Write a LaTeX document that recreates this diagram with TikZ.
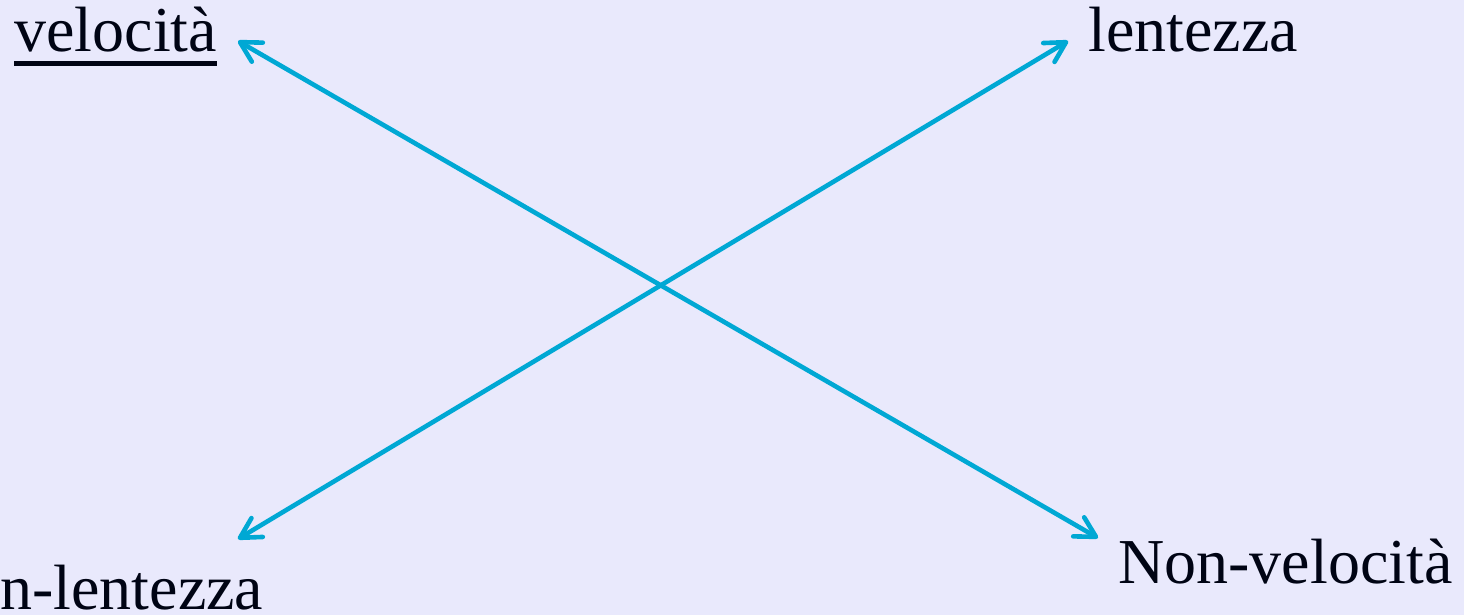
\documentclass[tikz,border=0pt]{standalone}
\usepackage{fontspec}
\setmainfont{Liberation Serif}
\usetikzlibrary{arrows.meta}
\definecolor{bg}{RGB}{233,233,252}
\definecolor{arrowc}{RGB}{0,168,212}
\definecolor{ink}{RGB}{0,4,20}
\tikzset{
  lbl/.style={anchor=base west, inner sep=0pt, text=ink, font=\fontsize{32}{38}\selectfont},
  link/.style={draw=arrowc, line width=2.3pt, line cap=round,
    {Straight Barb[length=10pt,width=11pt,round]}-{Straight Barb[length=10pt,width=11pt,round]}}
}
\begin{document}
\begin{tikzpicture}[x=0.5pt,y=-0.5pt]
\fill[bg] (0,0) rectangle (1464,615);
\useasboundingbox (0,0) rectangle (1464,615);
\node[lbl] (velo) at (14,52) {velocità};
\node[lbl] (lent) at (1088,52) {lentezza};
\node[lbl] (nlent) at (0,609) {n-lentezza};
\node[lbl] (nvelo) at (1118,583) {Non-velocità};
\draw[ink, line width=2.5pt] ([yshift=-6pt]velo.base west) -- ([yshift=-6pt]velo.base east);
\coordinate (a1) at (238,41);
\coordinate (a2) at (1098,538);
\coordinate (b1) at (1068,41);
\coordinate (b2) at (238,539);
\draw[link] (a1) -- (a2);
\draw[link] (b1) -- (b2);
\end{tikzpicture}
\end{document}
